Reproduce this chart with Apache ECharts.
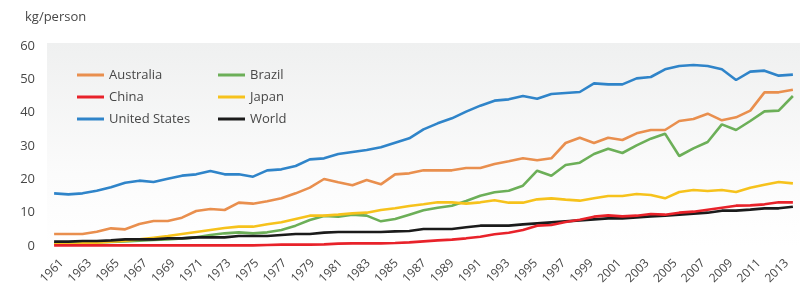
<!DOCTYPE html>
<html>
<head>
<meta charset="utf-8">
<script src="https://cdn.jsdelivr.net/npm/echarts@6/dist/echarts.min.js"></script>
<style>html,body{margin:0;padding:0;background:#fff}#c{width:803px;height:287px}</style>
</head>
<body>
<div id="c"></div>
<script>
var years = [];
for (var y = 1961; y <= 2013; y++) years.push(String(y));

var australia = [3.6,3.6,3.6,4.3,5.3,5.0,6.6,7.5,7.5,8.5,10.5,11.1,10.8,13.0,12.7,13.4,14.3,15.8,17.5,20.1,19.1,18.2,19.8,18.5,21.5,21.8,22.7,22.7,22.7,23.4,23.4,24.6,25.4,26.3,25.7,26.3,30.9,32.5,30.9,32.5,31.8,33.8,34.8,34.8,37.5,38.1,39.7,37.7,38.6,40.6,46.1,46.1,46.9];
var china = [0.2,0.2,0.2,0.2,0.2,0.2,0.2,0.2,0.2,0.2,0.2,0.2,0.2,0.2,0.2,0.3,0.4,0.4,0.4,0.5,0.7,0.8,0.8,0.8,0.9,1.1,1.4,1.7,1.9,2.3,2.8,3.5,4.0,4.8,6.1,6.3,7.2,7.9,8.8,9.2,8.9,9.1,9.6,9.4,10.0,10.3,10.9,11.5,12.1,12.2,12.5,13.1,13.1];
var unitedStates = [15.8,15.5,15.8,16.6,17.6,19.0,19.6,19.2,20.2,21.1,21.5,22.5,21.5,21.5,20.8,22.7,23.0,24.0,26.0,26.3,27.6,28.2,28.8,29.6,31.0,32.3,35.0,36.8,38.3,40.3,42.1,43.6,44.0,45.0,44.2,45.6,45.9,46.2,48.8,48.5,48.5,50.3,50.7,53.0,54.0,54.3,54.0,53.0,49.8,52.3,52.6,51.1,51.4];
var brazil = [0.8,0.9,1.0,1.1,1.2,1.4,1.6,1.8,2.0,2.3,2.6,3.3,3.8,4.1,3.8,4.1,4.8,6.1,7.8,9.0,8.8,9.4,9.1,7.4,8.1,9.4,10.7,11.5,12.1,13.5,15.1,16.1,16.6,18.1,22.6,21.1,24.3,25.0,27.6,29.2,27.9,30.2,32.2,33.7,27.0,29.3,31.2,36.5,34.8,37.5,40.4,40.6,45.0];
var japan = [0.5,0.6,0.8,1.0,1.3,1.6,2.0,2.5,3.0,3.6,4.2,4.8,5.4,5.8,5.8,6.5,7.1,8.1,9.1,9.1,9.4,9.8,10.0,10.8,11.3,12.0,12.5,13.1,13.1,12.7,13.1,13.7,13.0,13.0,14.0,14.3,13.9,13.6,14.3,15.0,15.0,15.6,15.3,14.3,16.2,16.8,16.5,16.8,16.2,17.5,18.4,19.2,18.8];
var world = [1.3,1.3,1.5,1.5,1.7,2.0,2.0,2.0,2.3,2.3,2.6,2.6,2.6,3.0,3.0,3.0,3.3,3.6,3.6,4.0,4.2,4.2,4.2,4.2,4.4,4.5,5.1,5.1,5.1,5.6,6.1,6.1,6.1,6.5,6.8,7.1,7.4,7.7,8.0,8.3,8.3,8.6,8.9,9.1,9.4,9.7,10.0,10.6,10.6,10.9,11.3,11.3,11.8];

var yTicks = [0, 10, 20, 30, 40, 50, 60];

var colors = {'Australia':'#e98f4e','China':'#e8222a','United States':'#2f84c9','Brazil':'#6caf58','Japan':'#f6c21c','World':'#1b1b1b'};
var dataMap = {'Australia':australia,'China':china,'United States':unitedStates,'Brazil':brazil,'Japan':japan,'World':world};
var drawOrder = ['United States','Australia','Brazil','Japan','World','China'];

var font = '"Open Sans", "Noto Sans", sans-serif';
var txt = '#474747';

var chart = echarts.init(document.getElementById('c'), null, {renderer:'canvas'});

function legendCfg(items, left) {
  return {
    orient:'vertical', left:left, top:63, itemWidth:27, itemHeight:3, itemGap:8,
    icon:'rect', data:items,
    textStyle:{color:txt, fontSize:13, fontFamily:font, lineHeight:14}
  };
}

chart.setOption({
  animation:false,
  backgroundColor:'#ffffff',
  title:{text:'kg/person', left:20, top:6, textStyle:{color:txt, fontSize:13, fontWeight:'normal', fontFamily:font}},
  graphic:[{
    type:'rect', z:-10, silent:true,
    shape:{x:47, y:43, width:753, height:203},
    style:{fill:new echarts.graphic.LinearGradient(0,0,0,1,[{offset:0,color:'#eff0f0'},{offset:0.65,color:'#fbfbfb'},{offset:1,color:'#ffffff'}])}
  }],
  legend:[legendCfg(['Australia','China','United States'], 72), legendCfg(['Brazil','Japan','World'], 213)],
  grid:[
    {left:47, right:3, top:46, bottom:41},
    {left:45, right:19, top:46, bottom:41}
  ],
  xAxis:[
    {
      type:'category', data:years, boundaryGap:true, gridIndex:0,
      axisLine:{show:false}, axisTick:{show:false}, axisLabel:{show:false}
    },
    {
      type:'category', data:years, boundaryGap:true, gridIndex:1,
      axisLine:{show:false}, axisTick:{show:false},
      axisLabel:{interval:1, rotate:45, align:'center', verticalAlign:'middle', color:txt, fontSize:12, fontFamily:font, margin:28}
    }
  ],
  yAxis:[
    {
      type:'value', min:yTicks[0], max:yTicks[yTicks.length-1], interval:10, gridIndex:0,
      axisLine:{show:false}, axisTick:{show:false}, splitLine:{show:false},
      axisLabel:{color:txt, fontSize:13, fontFamily:font, margin:12}
    },
    {
      type:'value', min:0, max:60, gridIndex:1, show:false
    }
  ],
  series:drawOrder.map(function(n){
    return {name:n, type:'line', xAxisIndex:0, yAxisIndex:0, data:dataMap[n], showSymbol:false, symbol:'none',
      lineStyle:{color:colors[n], width:2.6}, itemStyle:{color:colors[n]}};
  })
});
</script>
</body>
</html>
